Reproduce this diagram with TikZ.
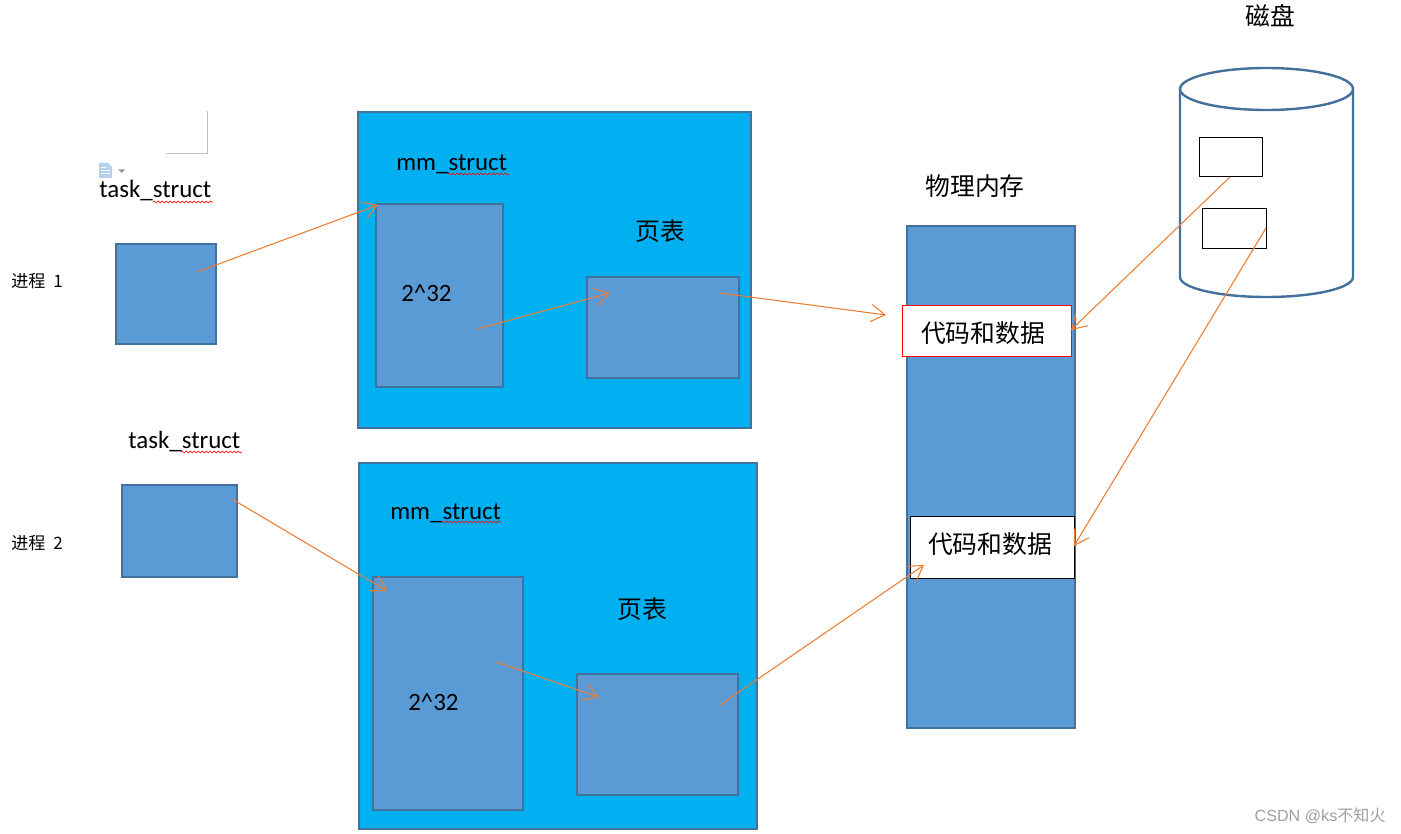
\documentclass[tikz,border=0pt]{standalone}
\usepackage{fontspec}
\setmainfont{Carlito}
\newfontfamily\cjk{Noto Sans CJK SC}
\newfontfamily\markfont{Liberation Sans}
\usetikzlibrary{arrows.meta, positioning, calc, decorations.pathmorphing}
\definecolor{bigfill}{HTML}{00B0F0}
\definecolor{boxfill}{HTML}{5B9BD5}
\definecolor{boxedge}{HTML}{41719C}
\definecolor{linkcol}{HTML}{ED7D31}
\tikzset{
    boxsize/.style 2 args={minimum width=#1*0.75pt, minimum height=#2*0.75pt},
    mmbox/.style={rectangle, fill=bigfill, draw=boxedge, line width=1.5pt, inner sep=0pt},
    membox/.style={rectangle, fill=boxfill, draw=boxedge, line width=1.5pt, inner sep=0pt},
    codebox/.style={rectangle, fill=white, line width=0.6pt, inner sep=0pt},
    diskbox/.style={rectangle, fill=white, draw=black, line width=0.7pt, inner sep=0pt},
    diskline/.style={draw=boxedge, line width=1.8pt, fill=white},
    latintext/.style={inner sep=0pt, font=\fontsize{18.7}{20}\selectfont},
    cjktext/.style={inner sep=0pt, font=\cjk\fontsize{18.6}{20}\selectfont},
    proctext/.style={inner sep=0pt, font=\cjk\fontsize{12.8}{14}\selectfont},
    linkarrow/.style={-{Straight Barb[length=10.5pt,width=13pt]}, line width=0.8pt, draw=linkcol},
    wavyline/.style={draw=red, line width=0.5pt, decorate, decoration={snake, segment length=3pt, amplitude=0.7pt}}
}
\begin{document}
\begin{tikzpicture}[x=0.75pt, y=-0.75pt]
    \useasboundingbox (0,0) rectangle (1401,834);

    % Memory maps
    \node[mmbox, boxsize={393}{316}] (mm1) at (554.5,270) {};
    \node[mmbox, boxsize={398}{366}] (mm2) at (558,646) {};

    % Boxes inside
    \node[membox, boxsize={100}{100}] (task1) at (166,294) {};
    \node[membox, boxsize={115}{92}] (task2) at (179.5,531) {};
    \node[membox, boxsize={127}{183}] (addr1) at (439.5,295.5) {};
    \node[membox, boxsize={150}{233}] (addr2) at (448,693.5) {};
    \node[membox, boxsize={152}{101}] (page1) at (663,327.5) {};
    \node[membox, boxsize={161}{121}] (page2) at (657.5,734.5) {};
    \node[membox, boxsize={168}{502}] (mem) at (991,477) {};
    \node[codebox, draw=red, boxsize={169}{51}] (code1) at (987.3,331.3) {};
    \node[codebox, draw=black, boxsize={164}{62}] (code2) at (992.5,547.5) {};

    % Disk
    \draw[diskline] (1180,89) -- (1180,277)
        arc[start angle=180, end angle=360, x radius=86.5, y radius=-20] -- (1353,89);
    \draw[diskline] (1266.5,89) ellipse[x radius=86.5, y radius=21];
    \node[diskbox, boxsize={63}{39}] (disk1) at (1230.5,157) {};
    \node[diskbox, boxsize={64}{40}] (disk2) at (1234.5,228) {};

    % Labels
    \node[latintext, anchor=west] (task1txt) at (99,191) {task\_struct};
    \node[latintext, anchor=west] (task2txt) at (128,442) {task\_struct};
    \node[latintext, anchor=west] (mm1txt) at (396,164) {mm\_struct};
    \node[latintext, anchor=west] (mm2txt) at (390,513) {mm\_struct};
    \node[latintext, anchor=west] (addr1txt) at (401,293) {2\textasciicircum 32};
    \node[latintext, anchor=west] (addr2txt) at (408,702) {2\textasciicircum 32};
    \node[cjktext] (code1txt) at (983,333) {代码和数据};
    \node[cjktext] (code2txt) at (990,544) {代码和数据};
    \node[cjktext] (page1txt) at (660,231) {页表};
    \node[cjktext] (page2txt) at (642,609) {页表};
    \node[cjktext] (memtxt) at (975,186) {物理内存};
    \node[cjktext] (disktxt) at (1270.5,16) {磁盘};
    \node[proctext, anchor=west] (proc1txt) at (11,281) {进程\hspace{6pt}1};
    \node[proctext, anchor=west] (proc2txt) at (11,543) {进程\hspace{6pt}2};
    \node[inner sep=0pt, text=gray!75, font=\markfont\fontsize{12.1}{14}\selectfont, anchor=east] (marktxt) at (1386,816) {CSDN @ks{\cjk 不知火}};

    % Spelling marks
    \draw[wavyline] (153,202) -- (213,202);
    \draw[wavyline] (181,452) -- (242,452);
    \draw[wavyline] (448,174) -- (509,174);
    \draw[wavyline] (441,522) -- (501,522);

    % Page corner and paste icon
    \draw[draw=black!25, line width=0.7pt] (166,153) -- (207.5,153) -- (207.5,111);
    \fill[boxfill!45] (99,163) -- (108,163) -- (112,167) -- (112,178) -- (99,178) -- cycle;
    \draw[white, line width=0.6pt] (101,167) -- (106,167) (101,170) -- (110,170) (101,173) -- (110,173);
    \fill[black!40] (118,169.5) -- (125,169.5) -- (121.5,173) -- cycle;

    % Free ends
    \coordinate (a1) at (197,272);
    \coordinate (a2) at (378,205);
    \coordinate (b1) at (477,329);
    \coordinate (b2) at (610,293);
    \coordinate (c1) at (720,293);
    \coordinate (c2) at (886,315);
    \coordinate (d1) at (232,499);
    \coordinate (d2) at (387,591);
    \coordinate (e1) at (496,662);
    \coordinate (e2) at (599,697);
    \coordinate (f1) at (720,705);
    \coordinate (f2) at (924,565);
    \coordinate (g1) at (1230,177);
    \coordinate (g2) at (1071,330);
    \coordinate (h1) at (1266,228);
    \coordinate (h2) at (1074,546);

    % Links
    \draw[linkarrow] (a1) -- (a2);
    \draw[linkarrow] (b1) -- (b2);
    \draw[linkarrow] (c1) -- (c2);
    \draw[linkarrow] (d1) -- (d2);
    \draw[linkarrow] (e1) -- (e2);
    \draw[linkarrow] (f1) -- (f2);
    \draw[linkarrow] (g1) -- (g2);
    \draw[linkarrow] (h1) -- (h2);
\end{tikzpicture}
\end{document}
